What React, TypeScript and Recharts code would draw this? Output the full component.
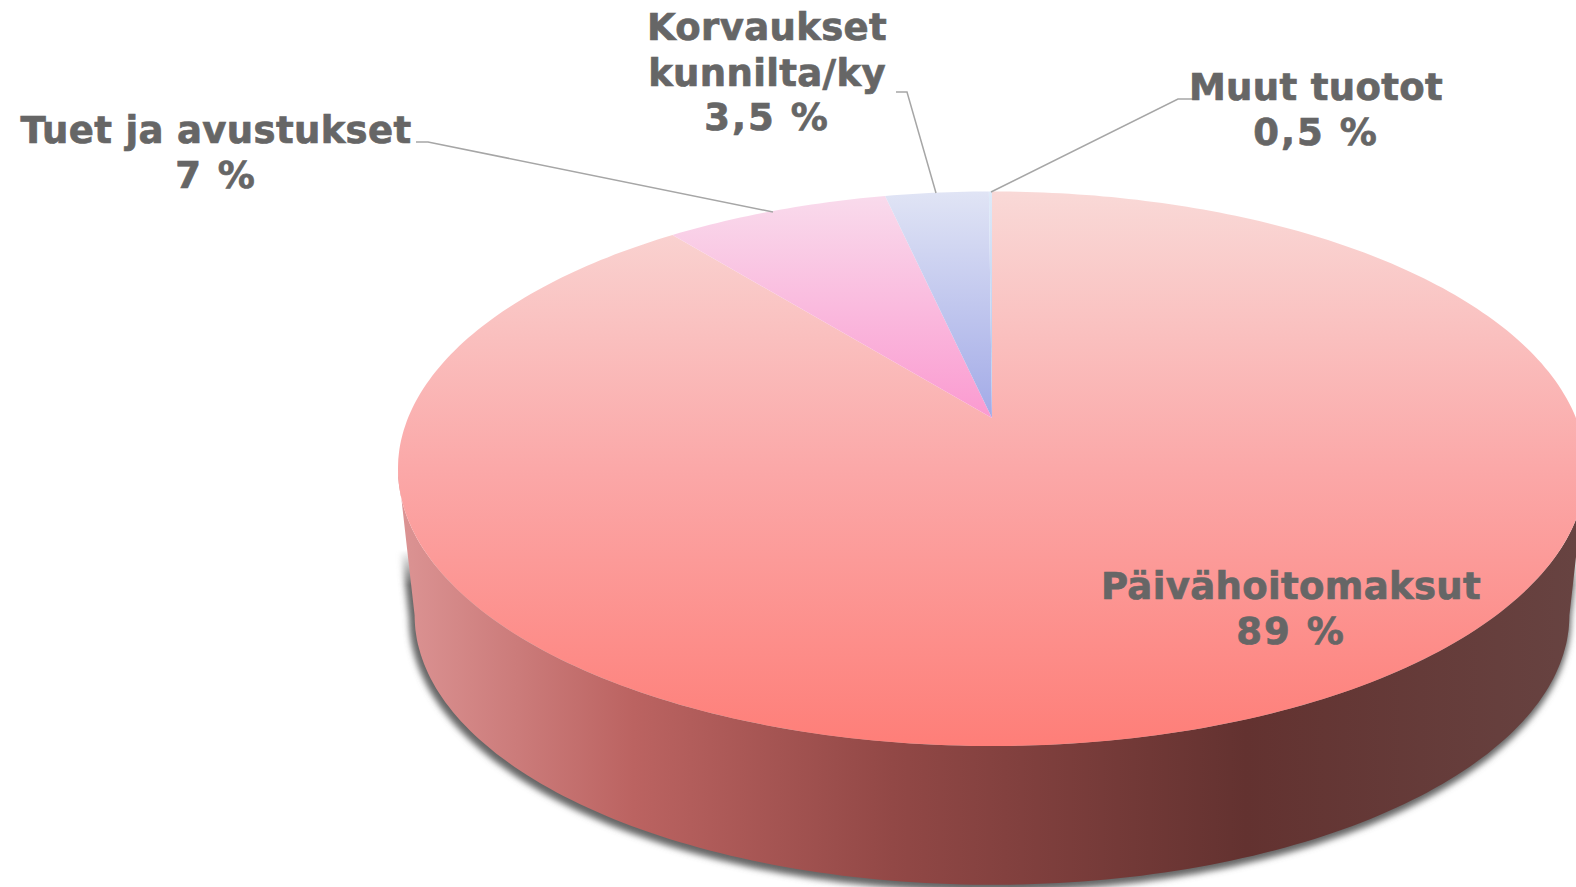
import React from "react";
import { PieChart, Pie } from "recharts";

const categories = ["Päivähoitomaksut", "Tuet ja avustukset", "Korvaukset kunnilta/ky", "Muut tuotot"];
// shares as drawn in the picture (the printed labels are rounded differently)
const shares = [89.25, 7.29, 3.36, 0.1];
const shareLabels = ["89 %", "7 %", "3,5 %", "0,5 %"];

const data = categories.map((name, i) => ({ name, value: shares[i] }));

const WIDTH = 1576;
const HEIGHT = 887;
const CX = 992;
const CY = 418;
const RADIUS = 584;

// perspective of the tilted disc
const TILT = 0.183;
const SQUASH = 268 / RADIUS;
const BASE_SCALE = 0.972;
const BASE_DROP = 148;

const labelLayout = [
  { x: 1291, lines: ["Päivähoitomaksut"], y: 599 },
  { x: 216, lines: ["Tuet ja avustukset"], y: 143 },
  { x: 767, lines: ["Korvaukset", "kunnilta/ky"], y: 40 },
  { x: 1316, lines: ["Muut tuotot"], y: 100 },
];

const leaderLayout = [
  null,
  "416,142 428,142 773,212",
  "896,92 907,92 936,193",
  "1195,99 1178,99 991,192",
];

const project = (deg: number, scale = 1, drop = 0) => {
  const t = (deg * Math.PI) / 180;
  const u = Math.sin(t);
  const v = Math.cos(t);
  const w = 1 + TILT * v;
  return [
    CX + (scale * RADIUS * u) / w,
    CY - (scale * RADIUS * SQUASH * v) / w + drop,
  ];
};

const arcPoints = (from: number, to: number, scale = 1, drop = 0) => {
  const steps = Math.max(2, Math.ceil(Math.abs(to - from)));
  const pts: number[][] = [];
  for (let i = 0; i <= steps; i++) {
    pts.push(project(from + ((to - from) * i) / steps, scale, drop));
  }
  return pts;
};

const toPath = (pts: number[][]) =>
  "M" + pts.map((p) => `${p[0].toFixed(1)},${p[1].toFixed(1)}`).join("L") + "Z";

const sideWall = () => {
  const edge = (Math.asin(TILT) * 180) / Math.PI;
  const front = arcPoints(90 + edge, 270 - edge);
  const back = arcPoints(270 - edge, 90 + edge, BASE_SCALE, BASE_DROP);
  return toPath([...front, ...back]);
};

const faceFills = ["url(#faceRed)", "url(#facePink)", "url(#faceBlue)", "url(#faceIce)"];

const renderSlice = (props: any) => {
  const { startAngle, endAngle, index } = props;
  const from = 90 - startAngle;
  const to = 90 - endAngle;
  const face = toPath([[CX, CY], ...arcPoints(from, to)]);
  return (
    <g>
      {index === 0 && (
        <>
          <g mask="url(#shadowFade)">
            <path d={sideWall()} fill="#666666" stroke="#666666" strokeWidth={7} transform="translate(-2,3)" filter="url(#wallShadow)" />
          </g>
          <path d={sideWall()} fill="url(#wall)" />
        </>
      )}
      <path d={face} fill={faceFills[index]} />
    </g>
  );
};

const renderLabel = (props: any) => {
  const { index } = props;
  const spot = labelLayout[index];
  const lines = spot.lines;
  return (
    <text
      key={index}
      textAnchor="middle"
      fontFamily="DejaVu Sans"
      fontWeight="bold"
      fontSize={37}
      letterSpacing={0.35}
      fill="#666666"
      stroke="#666666"
      strokeWidth={0.7}
    >
      {lines.map((line, i) => (
        <tspan key={line} x={spot.x} y={spot.y + i * 45.5}>
          {line}
        </tspan>
      ))}
      <tspan x={spot.x} y={spot.y + lines.length * 45} letterSpacing={2}>
        {shareLabels[index]}
      </tspan>
    </text>
  );
};

const renderLeader = (props: any) => {
  const pts = leaderLayout[props.index];
  if (!pts) return <g key={props.index} />;
  return <polyline key={props.index} points={pts} fill="none" stroke="#a6a6a6" strokeWidth={1.5} />;
};

const App: React.FC = () => {
  return (
    <div style={{ position: "absolute", left: 0, top: 0, width: WIDTH, height: HEIGHT, background: "#fff", overflow: "hidden" }}>
      <PieChart width={WIDTH} height={HEIGHT} margin={{ top: 0, right: 0, bottom: 0, left: 0 }}>
        <defs>
          <linearGradient id="faceRed" gradientUnits="userSpaceOnUse" x1={0} y1={192} x2={0} y2={746}>
            <stop offset="0" stopColor="#f9d9d7" />
            <stop offset="0.5" stopColor="#fba8a8" />
            <stop offset="1" stopColor="#fe7e78" />
          </linearGradient>
          <linearGradient id="facePink" gradientUnits="userSpaceOnUse" x1={0} y1={195} x2={0} y2={418}>
            <stop offset="0" stopColor="#f9dbec" />
            <stop offset="1" stopColor="#fb9ad0" />
          </linearGradient>
          <linearGradient id="faceBlue" gradientUnits="userSpaceOnUse" x1={0} y1={192} x2={0} y2={418}>
            <stop offset="0" stopColor="#e0e4f5" />
            <stop offset="1" stopColor="#a2aae7" />
          </linearGradient>
          <linearGradient id="faceIce" gradientUnits="userSpaceOnUse" x1={0} y1={192} x2={0} y2={418}>
            <stop offset="0" stopColor="#dfeaf8" />
            <stop offset="1" stopColor="#a9c2ee" />
          </linearGradient>
          <linearGradient id="wall" gradientUnits="userSpaceOnUse" x1={398} y1={0} x2={1576} y2={0}>
            <stop offset="0" stopColor="#dc9494" />
            <stop offset="0.2" stopColor="#bb6361" />
            <stop offset="0.42" stopColor="#924846" />
            <stop offset="0.72" stopColor="#633230" />
            <stop offset="1" stopColor="#674341" />
          </linearGradient>
          <linearGradient id="shadowRamp" gradientUnits="userSpaceOnUse" x1={0} y1={550} x2={0} y2={585}>
            <stop offset="0" stopColor="#000" />
            <stop offset="1" stopColor="#fff" />
          </linearGradient>
          <filter id="wallShadow" x="-5%" y="-5%" width="110%" height="110%">
            <feGaussianBlur stdDeviation={3} />
          </filter>
          <mask id="shadowFade" maskUnits="userSpaceOnUse" x={0} y={0} width={WIDTH} height={HEIGHT}>
            <rect x={0} y={0} width={WIDTH} height={HEIGHT} fill="url(#shadowRamp)" />
          </mask>
        </defs>
        <Pie
          data={data}
          dataKey="value"
          nameKey="name"
          cx={CX}
          cy={CY}
          outerRadius={RADIUS}
          startAngle={90}
          endAngle={-270}
          stroke="none"
          shape={renderSlice}
          label={renderLabel}
          labelLine={renderLeader}
          isAnimationActive={false}
        />
      </PieChart>
    </div>
  );
};

export default App;
